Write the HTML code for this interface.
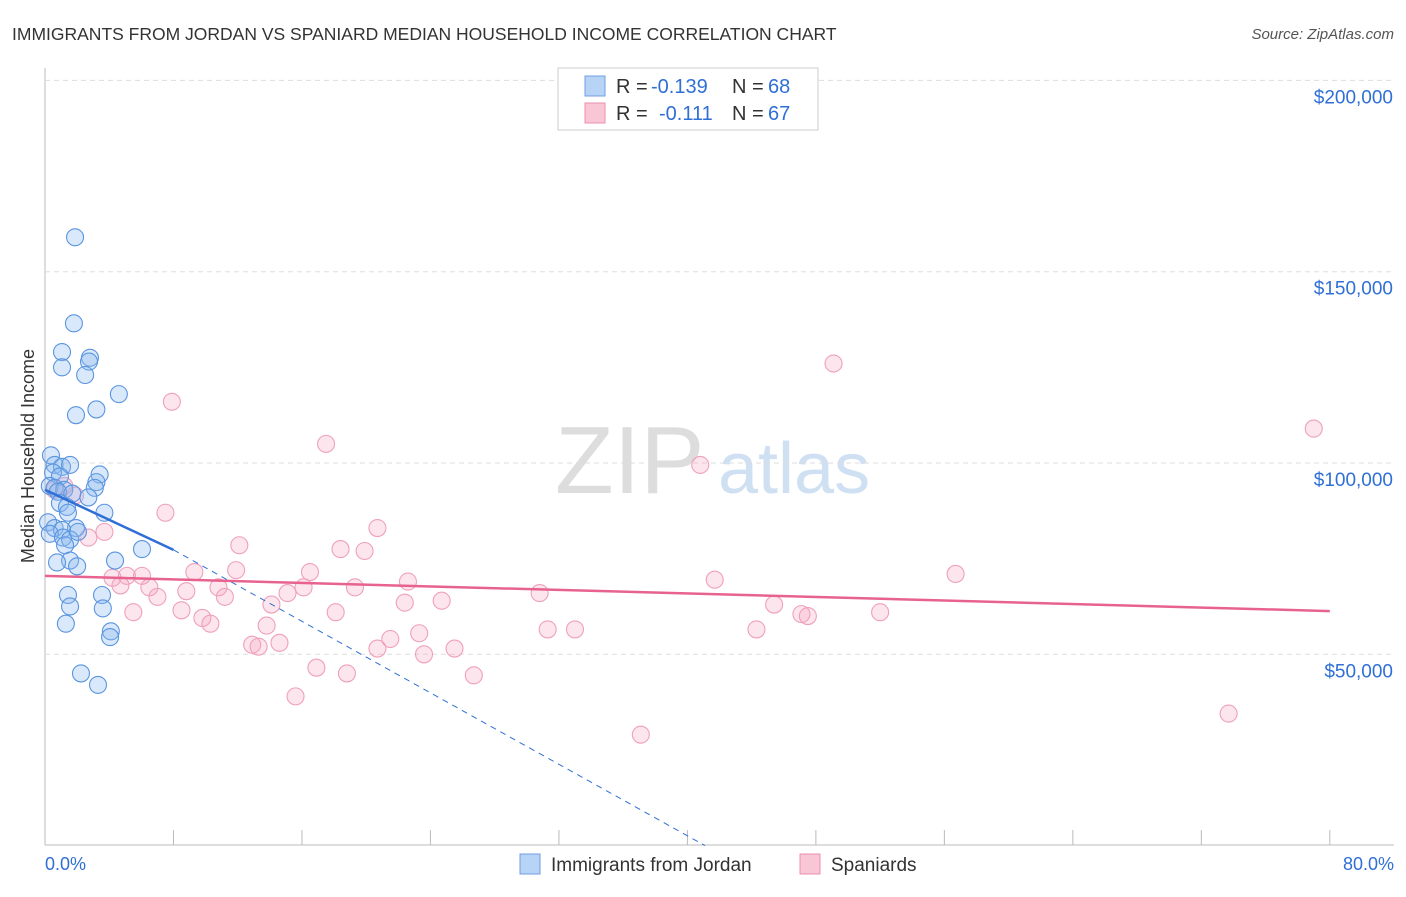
<!DOCTYPE html>
<html><head><meta charset="utf-8"><style>
body{margin:0;background:#fff;font-family:"Liberation Sans",sans-serif}
svg text{font-family:"Liberation Sans",sans-serif}
</style></head><body>
<svg width="1406" height="892">
<text x="12" y="40" font-size="17.5" fill="#333">IMMIGRANTS FROM JORDAN VS SPANIARD MEDIAN HOUSEHOLD INCOME CORRELATION CHART</text>
<text x="1394" y="39" font-size="15" fill="#555" font-style="italic" text-anchor="end">Source: ZipAtlas.com</text>
<text x="34" y="456" font-size="18" fill="#333" transform="rotate(-90 34 456)" text-anchor="middle">Median Household Income</text>
<text x="555" y="493" font-size="96" fill="#ddd" font-family="Liberation Serif">ZIP</text>
<text x="718" y="493" font-size="72" fill="#cfe0f3">atlas</text>
<g id="grid"></g><g id="pts"></g><g id="lines"></g>
<g>
<rect x="558" y="68" width="260" height="62" fill="#fff" stroke="#ccc"/>
<rect x="585" y="76" width="20" height="20" fill="#b7d3f5" stroke="#6f9fe0"/>
<rect x="585" y="103" width="20" height="20" fill="#f9c6d6" stroke="#ec8fae"/>
<text x="616" y="93" font-size="20" fill="#333">R =</text><text x="651" y="93" font-size="20" fill="#2f6fd6">-0.139</text>
<text x="732" y="93" font-size="20" fill="#333">N =</text><text x="768" y="93" font-size="20" fill="#2f6fd6">68</text>
<text x="616" y="120" font-size="20" fill="#333">R =</text><text x="659" y="120" font-size="20" fill="#2f6fd6">-0.111</text>
<text x="732" y="120" font-size="20" fill="#333">N =</text><text x="768" y="120" font-size="20" fill="#2f6fd6">67</text>
</g>
<g>
<rect x="520" y="854" width="20" height="20" fill="#b7d3f5" stroke="#6f9fe0"/>
<text x="551" y="871" font-size="19" fill="#333">Immigrants from Jordan</text>
<rect x="800" y="854" width="20" height="20" fill="#f9c6d6" stroke="#ec8fae"/>
<text x="831" y="871" font-size="19" fill="#333">Spaniards</text>
</g>
<text x="45" y="870" font-size="18" fill="#2f6fd6">0.0%</text>
<text x="1394" y="870" font-size="18" fill="#2f6fd6" text-anchor="end">80.0%</text>
</svg>
<script>
const yTicks=[50000,100000,150000,200000];
const yTickLabels=["$50,000","$100,000","$150,000","$200,000"];
const jordanX=[1.87,1.8,1.06,2.8,1.06,2.74,2.5,4.6,3.2,1.93,0.37,0.6,1.06,1.56,0.5,0.93,3.4,3.2,3.1,0.3,0.6,1.2,0.8,1.7,2.7,0.93,1.37,3.7,1.43,0.19,0.6,1.93,1.06,0.3,1.12,1.56,2.05,1.25,6.04,4.36,1.56,0.75,2.0,1.43,3.55,1.56,3.6,1.3,4.1,4.05,2.24,3.3];
const jordanY=[159,136.5,129,127.5,125,126.5,123,118,114,112.5,102,99.5,99,99.5,97.5,96.5,97,95,93.5,94,93.5,93,92.5,92,91,89.5,88.5,87,87,84.5,83,83,82.5,81.5,80.5,80,82,78.5,77.5,74.5,74.5,74,73,65.5,65.5,62.5,62,58,56,54.5,45,42];
const spanX=[7.9,17.5,40.8,49.1,79,0.6,1.2,1.87,7.5,20.7,2.7,3.7,12.1,18.4,19.9,11.9,9.3,16.5,4.2,5.1,6.04,4.7,6.5,8.8,10.8,16.1,19.3,22.6,41.7,56.7,30.8,7,11.2,15.1,24.7,22.4,14.1,8.5,5.5,18.1,9.8,10.3,13.8,45.4,47.1,47.5,52,31.3,33,44.3,23.3,21.5,12.9,13.3,14.6,20.7,23.6,25.5,16.9,18.8,26.7,15.6,37.1,73.7];
const spanY=[116,105,99.5,126,109,93,94,91.5,87,83,80.5,82,78.5,77.5,77,72,71.5,71.5,70,70.5,70.5,68,67.5,66.5,67.5,67.5,67.5,69,69.5,71,66,65,65,66,64,63.5,63,61.5,61,61,59.5,58,57.5,63,60.5,60,61,56.5,56.5,56.5,55.5,54,52.5,52,53,51.5,50,51.5,46.5,45,44.5,39,29,34.5];
const jordanTrend=[[0,93],[8,77.3],[41.1,0]];
const spanTrend=[[0,70.5],[80,61.3]];
const X=p=>45+p*16.06, Y=k=>845.6-k*1000/50000*191.3;
const NS="http://www.w3.org/2000/svg";
function mk(t,a,parent){const e=document.createElementNS(NS,t);for(const k in a)e.setAttribute(k,a[k]);document.getElementById(parent).appendChild(e);return e;}
const ax=mk('line',{x1:45,y1:68,x2:45,y2:845,stroke:'#bbb'},'grid');


const bx=mk('line',{x1:45,y1:845,x2:1394,y2:845,stroke:'#bbb'},'grid');


for(let i=1;i<=10;i++){const t=mk('line',{x1:X(i*8),y1:830,x2:X(i*8),y2:845,stroke:'#bbb'},'grid');

}
yTicks.forEach((v,i)=>{const y=Y(v/1000);
const g=mk('line',{x1:45,y1:y,x2:1394,y2:y,stroke:'#ddd','stroke-dasharray':'5,4'},'grid');


const t=mk('text',{x:1393,y:y+23,'font-size':19,fill:'#2f6fd6','text-anchor':'end'},'grid');t.textContent=yTickLabels[i];

});
spanX.forEach((x,i)=>{const c=mk('circle',{cx:X(x),cy:Y(spanY[i]),r:8.5,fill:'rgba(245,160,190,0.28)',stroke:'#efa0bc','stroke-width':1.1},'pts');

});
jordanX.forEach((x,i)=>{const c=mk('circle',{cx:X(x),cy:Y(jordanY[i]),r:8.5,fill:'rgba(140,185,240,0.33)',stroke:'#5a95e0','stroke-width':1.1},'pts');

});
const j=jordanTrend;
const l1=mk('line',{x1:X(j[0][0]),y1:Y(j[0][1]),x2:X(j[1][0]),y2:Y(j[1][1]),stroke:'#2f6fd6','stroke-width':2.5},'lines');


const l2=mk('line',{x1:X(j[1][0]),y1:Y(j[1][1]),x2:X(j[2][0]),y2:Y(j[2][1]),stroke:'#2f6fd6','stroke-width':1,'stroke-dasharray':'6,5'},'lines');


const l3=mk('line',{x1:X(spanTrend[0][0]),y1:Y(spanTrend[0][1]),x2:X(spanTrend[1][0]),y2:Y(spanTrend[1][1]),stroke:'#e8628e','stroke-width':2.5},'lines');


</script>
</body></html>
